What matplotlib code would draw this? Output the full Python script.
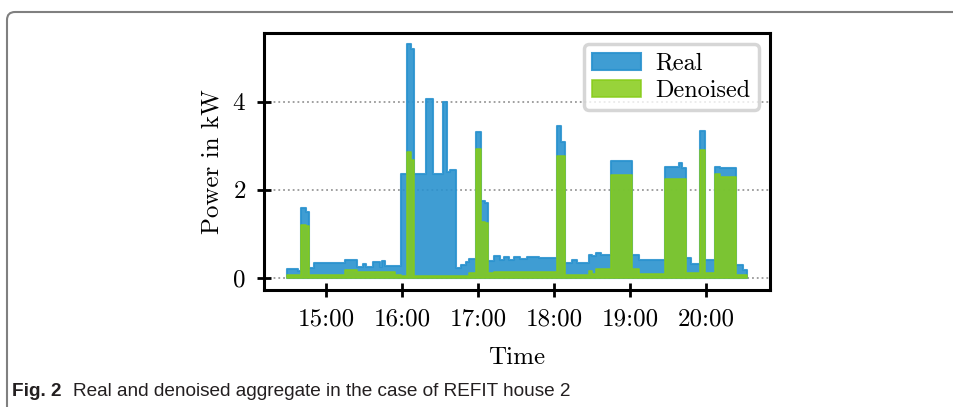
import matplotlib
matplotlib.use("Agg")
import matplotlib.pyplot as plt
from matplotlib.patches import FancyBboxPatch
import numpy as np

# step segments: start time, real kW, denoised kW
seg_times = ["14:29", "14:38", "14:40", "14:44", "14:46", "14:50", "15:15", "15:24",
             "15:29", "15:31", "15:37", "15:42", "15:44", "15:46", "15:54", "15:59",
             "16:04", "16:07", "16:09", "16:19", "16:24", "16:32", "16:35", "16:38",
             "16:42", "16:46", "16:50", "16:53", "16:58", "17:02", "17:05", "17:08",
             "17:12", "17:17", "17:20", "17:24", "17:28", "17:33", "17:38", "17:48",
             "18:02", "18:05", "18:08", "18:14", "18:18", "18:27", "18:30", "18:33",
             "18:37", "18:45", "19:01", "19:07", "19:27", "19:38", "19:41", "19:44",
             "19:48", "19:55", "19:59", "20:07", "20:11", "20:23", "20:29"]
end_time = "20:32"
real_kw = [0.20, 0.17, 1.58, 1.50, 0.22, 0.35, 0.41, 0.26,
           0.31, 0.26, 0.37, 0.26, 0.38, 0.28, 0.28, 2.37,
           5.30, 5.20, 2.37, 4.07, 2.37, 4.00, 2.40, 2.45,
           0.24, 0.30, 0.37, 0.44, 3.31, 1.76, 1.70, 0.39,
           0.50, 0.40, 0.47, 0.42, 0.47, 0.44, 0.48, 0.45,
           3.46, 3.08, 0.35, 0.40, 0.35, 0.52, 0.50, 0.58,
           0.52, 2.65, 0.52, 0.41, 2.52, 2.60, 2.50, 0.45,
           0.33, 3.33, 0.42, 2.52, 2.50, 0.29, 0.18]
denoised_kw = [0.07, 0.07, 1.20, 1.18, 0.07, 0.07, 0.18, 0.13,
               0.13, 0.13, 0.13, 0.13, 0.13, 0.13, 0.07, 0.04,
               2.85, 2.67, 0.04, 0.04, 0.04, 0.04, 0.04, 0.04,
               0.05, 0.05, 0.05, 0.12, 2.93, 1.27, 1.25, 0.12,
               0.14, 0.14, 0.14, 0.14, 0.14, 0.14, 0.14, 0.14,
               2.76, 2.76, 0.07, 0.07, 0.07, 0.17, 0.10, 0.20,
               0.20, 2.35, 0.20, 0.09, 2.25, 2.25, 2.25, 0.12,
               0.12, 2.91, 0.12, 2.37, 2.30, 0.07, 0.07]

tick_hours = [15, 16, 17, 18, 19, 20]
tick_labels = ["15:00", "16:00", "17:00", "18:00", "19:00", "20:00"]
y_ticks = [0, 2, 4]

BLUE = "#2a92cf"
GREEN = "#86cc17"
CAPTION_FONT = ["Liberation Sans Narrow", "Liberation Sans", "DejaVu Sans"]


def to_hours(s):
    h, m = s.split(":")
    return int(h) + int(m) / 60.0


t = np.array([to_hours(s) for s in seg_times + [end_time]])
real = np.array(real_kw + [real_kw[-1]])
den = np.array(denoised_kw + [denoised_kw[-1]])

plt.rcParams["font.family"] = "cmr10"
plt.rcParams["mathtext.fontset"] = "cm"
plt.rcParams["axes.formatter.use_mathtext"] = True

fig = plt.figure(figsize=(9.54, 4.07), dpi=100)

# rounded frame of the journal figure box, running off the right and bottom (inches)
frame = FancyBboxPatch((0.07, -1.0), 12.0, 4.07 - 0.12 + 1.0,
                       boxstyle="round,pad=0,rounding_size=0.08",
                       transform=fig.dpi_scale_trans, fill=False,
                       edgecolor="#808080", linewidth=1.5, clip_on=False)
fig.patches.append(frame)

ax = fig.add_axes([264 / 954, 1 - 290 / 407, 506 / 954, 257 / 407])

ax.fill_between(t, real, step="post", color=BLUE, alpha=0.9, linewidth=1.5,
                label="Real")
ax.fill_between(t, den, step="post", color=GREEN, alpha=0.85, linewidth=1.2,
                label="Denoised")

ax.set_xticks(tick_hours)
ax.set_xticklabels(tick_labels)
ax.set_yticks(y_ticks)
ax.set_xlim(t[0] - 0.05 * (t[-1] - t[0]), t[-1] + 0.05 * (t[-1] - t[0]))
ax.set_ylim(-0.27, 5.56)

ax.yaxis.grid(True, linestyle=":", color="#999999", linewidth=1.3)
ax.set_axisbelow(True)
for sp in ax.spines.values():
    sp.set_linewidth(2.2)
ax.tick_params(direction="inout", length=10, width=2, labelsize=18, pad=8)

ax.set_xlabel("Time", fontsize=18, labelpad=12)
ax.set_ylabel("Power in kW", fontsize=18, labelpad=6)

leg = ax.legend(loc="upper right", fontsize=17.5, framealpha=0.8,
                fancybox=True, borderaxespad=0.45, labelspacing=0.2,
                handletextpad=0.6, borderpad=0.35)
leg.get_frame().set_linewidth(2.5)
leg.get_frame().set_edgecolor("#cccccc")

fig.text(12 / 954, 1 - 396 / 407, "Fig. 2", fontsize=13.7, fontweight="bold",
         family=CAPTION_FONT, color="#231f20")
fig.text(73 / 954, 1 - 396 / 407,
         "Real and denoised aggregate in the case of REFIT house 2",
         fontsize=13.7, family=CAPTION_FONT, color="#231f20")

fig.savefig("out.png", dpi=100)
